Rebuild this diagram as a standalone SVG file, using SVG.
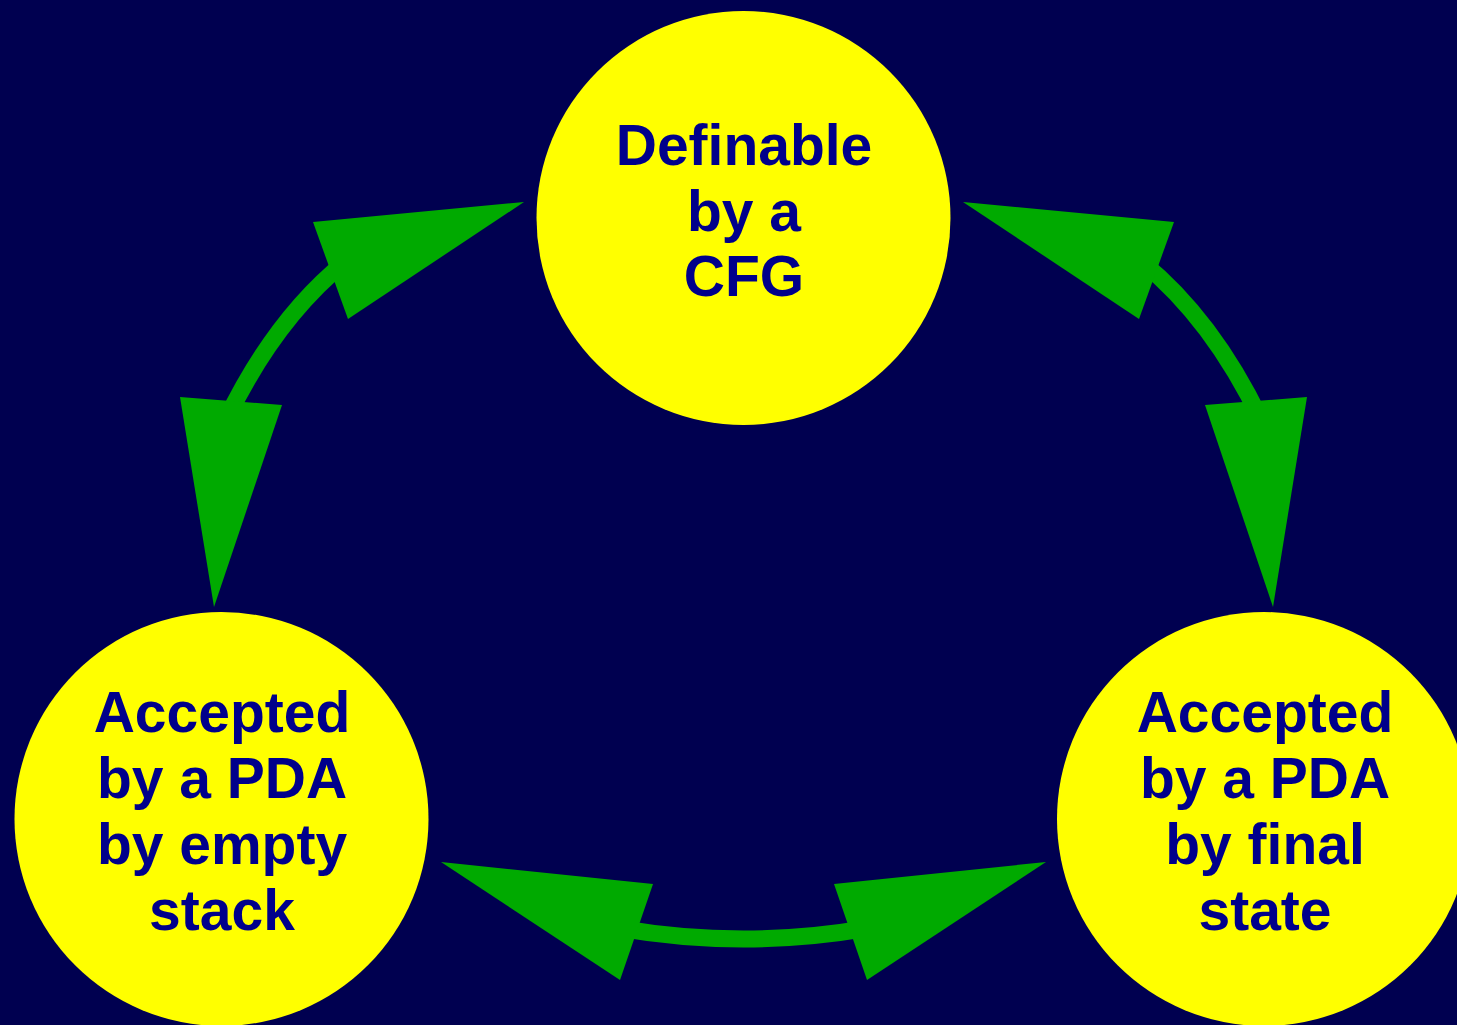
<svg xmlns="http://www.w3.org/2000/svg" width="1457" height="1025" viewBox="0 0 1457 1025">
  <style>
    .node { fill: #FFFF00; }
    .label { font-family: "Liberation Sans", Arial, sans-serif; font-weight: bold; font-size: 57px; fill: #00008B; text-anchor: middle; }
    .shaft { fill: none; stroke: #00AA00; stroke-width: 17; }
    .head { fill: #00AA00; }
  </style>
  <rect width="1457" height="1025" fill="#000050"/>

  <!-- connectors: curved shafts with triangular heads at both ends -->
  <g id="connectors">
    <!-- CFG <-> empty stack -->
    <path class="shaft" d="M 226 420 C 255 360 292 305 345 262"/>
    <polygon class="head" points="524,202 313,222 348,319"/>
    <polygon class="head" points="214,607 180,397 282,405"/>
    <!-- CFG <-> final state -->
    <path class="shaft" d="M 1261 420 C 1232 360 1195 305 1142 262"/>
    <polygon class="head" points="963,202 1174,222 1139,319"/>
    <polygon class="head" points="1273,607 1307,397 1205,405"/>
    <!-- empty stack <-> final state -->
    <path class="shaft" d="M 620 928.4 Q 743.5 949.6 867 928.4"/>
    <polygon class="head" points="441,862 653,884 620,980"/>
    <polygon class="head" points="1046,862 834,884 867,980"/>
  </g>

  <g id="cfg">
    <circle class="node" cx="743.5" cy="218" r="207"/>
    <text class="label" x="744" y="165">Definable</text>
    <text class="label" x="744" y="231">by a</text>
    <text class="label" x="744" y="296">CFG</text>
  </g>

  <g id="empty-stack">
    <circle class="node" cx="221.5" cy="819" r="207"/>
    <text class="label" x="222" y="732">Accepted</text>
    <text class="label" x="222" y="798">by a PDA</text>
    <text class="label" x="222" y="864">by empty</text>
    <text class="label" x="222" y="930">stack</text>
  </g>

  <g id="final-state">
    <circle class="node" cx="1264" cy="819" r="207"/>
    <text class="label" x="1265" y="732">Accepted</text>
    <text class="label" x="1265" y="798">by a PDA</text>
    <text class="label" x="1265" y="864">by final</text>
    <text class="label" x="1265" y="930">state</text>
  </g>
</svg>
